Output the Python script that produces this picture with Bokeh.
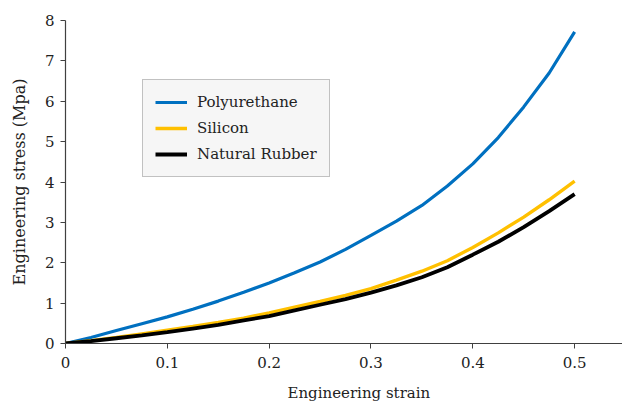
from bokeh.plotting import figure
from bokeh.models import Range1d, Legend, LegendItem, FixedTicker, Title
from bokeh.embed import file_html
from bokeh.resources import INLINE

strain = [0.0, 0.025, 0.05, 0.075, 0.1, 0.125, 0.15, 0.175, 0.2, 0.225, 0.25,
          0.275, 0.3, 0.325, 0.35, 0.375, 0.4, 0.425, 0.45, 0.475, 0.5]
polyurethane = [0.0, 0.15, 0.32, 0.49, 0.66, 0.85, 1.05, 1.27, 1.50, 1.75, 2.02,
                2.33, 2.68, 3.03, 3.42, 3.90, 4.45, 5.10, 5.86, 6.70, 7.72]
silicon = [0.0, 0.07, 0.15, 0.24, 0.33, 0.42, 0.52, 0.63, 0.76, 0.90, 1.04,
           1.19, 1.36, 1.57, 1.79, 2.05, 2.38, 2.74, 3.13, 3.56, 4.02]
natural_rubber = [0.0, 0.06, 0.13, 0.20, 0.28, 0.37, 0.46, 0.57, 0.68, 0.82, 0.96,
                  1.10, 1.26, 1.44, 1.64, 1.89, 2.20, 2.52, 2.88, 3.28, 3.70]
series_names = ["Polyurethane", "Silicon", "Natural Rubber"]
x_ticks = [0, 0.1, 0.2, 0.3, 0.4, 0.5]
y_ticks = [0, 1, 2, 3, 4, 5, 6, 7, 8]

FONT = "DejaVu Serif"

p = figure(width=622, height=412, output_backend="svg", toolbar_location=None,
           x_range=Range1d(0, 0.547), y_range=Range1d(0, 8),
           min_border_left=65, min_border_right=0, min_border_top=20, min_border_bottom=69)
p.outline_line_color = None
p.xgrid.visible = False
p.ygrid.visible = False
p.background_fill_color = "white"

r1 = p.line(strain, polyurethane, line_color="#0070C0", line_width=3.2)
r2 = p.line(strain, silicon, line_color="#FFC000", line_width=3.4)
r3 = p.line(strain, natural_rubber, line_color="black", line_width=3.8)

for ax in (p.xaxis[0], p.yaxis[0]):
    ax.axis_line_color = "#404040"
    ax.axis_line_width = 1.2
    ax.major_tick_line_color = "#404040"
    ax.major_tick_out = 5
    ax.major_tick_in = 0
    ax.minor_tick_line_color = None
    ax.major_label_text_font = FONT
    ax.major_label_text_font_size = "15px"
    ax.major_label_text_color = "#222222"
    ax.axis_label_text_font = FONT
    ax.axis_label_text_font_style = "normal"
    ax.axis_label_text_color = "#222222"

p.xaxis.ticker = FixedTicker(ticks=x_ticks)
p.yaxis.ticker = FixedTicker(ticks=y_ticks)
p.xaxis.major_label_overrides = {0: "0"}
p.yaxis.axis_label = "Engineering stress (Mpa)"
p.yaxis.axis_label_text_font_size = "16px"
p.xaxis.major_label_standoff = 8
p.yaxis.major_label_standoff = 6
p.yaxis.axis_label_standoff = 13

xlabel = Title(text="Engineering strain", align="left", offset=222,
               text_font=FONT, text_font_size="15px", text_font_style="normal",
               text_color="#222222", standoff=22)
p.add_layout(xlabel, "below")

legend = Legend(items=[LegendItem(label=series_names[0], renderers=[r1]),
                       LegendItem(label=series_names[1], renderers=[r2]),
                       LegendItem(label=series_names[2], renderers=[r3])],
                location=(77, 166))
legend.label_text_font = FONT
legend.label_text_font_size = "15px"
legend.label_text_color = "#222222"
legend.background_fill_color = "#F6F6F6"
legend.background_fill_alpha = 1.0
legend.border_line_color = "#8C8C8C"
legend.border_line_width = 1
legend.glyph_width = 32
legend.glyph_height = 20
legend.spacing = 6
legend.padding = 12
legend.margin = 0
legend.label_standoff = 10
p.add_layout(legend, "center")

open("out.html", "w").write(file_html(p, INLINE))
